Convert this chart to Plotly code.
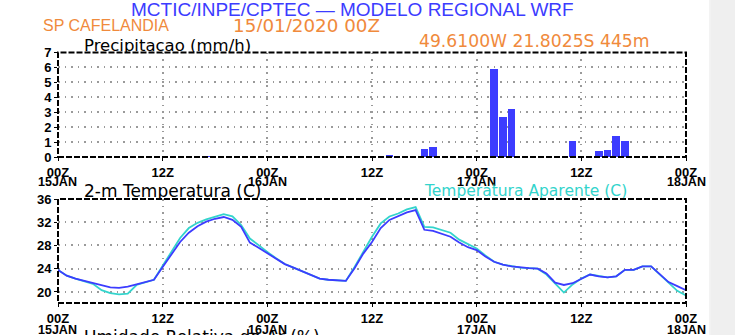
import plotly.graph_objects as go

W, H = 735, 335

# ---------------- data ----------------
hours = list(range(0, 73))
precip_hours = [17, 21, 38, 42, 43, 50, 51, 52, 58, 59, 60, 61, 62, 63, 64, 65]
precip_vals = [0.10, 0.03, 0.15, 0.55, 0.72, 5.92, 2.68, 3.28, 0.02, 1.12, 0.03, 0.03, 0.42, 0.52, 1.42, 1.13]

temp_2m = [23.8, 22.8, 22.3, 21.9, 21.5, 21.1, 20.8, 20.7, 20.9, 21.3, 21.7, 22.1,
           24.3, 26.5, 28.6, 30.2, 31.3, 32.1, 32.6, 32.9, 32.4, 31.2, 28.5, 27.6,
           26.7, 25.7, 24.8, 24.2, 23.6, 22.9, 22.3, 22.1, 22.0, 21.9, 24.1, 26.6,
           28.6, 31.0, 32.4, 33.1, 33.7, 34.1, 30.7, 30.5, 30.0, 29.5, 28.5, 27.7,
           27.2, 26.1, 25.2, 24.7, 24.4, 24.2, 24.1, 24.0, 23.2, 21.6, 21.2, 21.5,
           22.3, 23.0, 22.7, 22.5, 22.7, 23.8, 23.8, 24.4, 24.4, 23.0, 21.7, 21.0, 20.3]
temp_apparent = [23.8, 22.8, 22.3, 21.9, 21.4, 20.3, 19.8, 19.6, 19.7, 21.2, 21.7, 22.1,
                 24.5, 27.0, 29.3, 31.0, 31.9, 32.5, 33.0, 33.4, 33.0, 31.5, 29.2, 28.0,
                 26.9, 25.8, 24.8, 24.2, 23.6, 22.9, 22.3, 22.1, 22.0, 21.9, 24.3, 27.0,
                 29.5, 31.8, 33.0, 33.5, 34.2, 34.6, 31.2, 31.1, 30.6, 30.2, 29.0, 28.3,
                 27.5, 26.3, 25.2, 24.7, 24.4, 24.2, 24.1, 24.0, 23.0, 21.4, 19.9, 21.3,
                 22.3, 23.0, 22.7, 22.5, 22.7, 23.8, 23.8, 24.4, 24.4, 23.0, 21.5, 20.2, 19.4]

tick_hours = [0, 12, 24, 36, 48, 60, 72]
tick_labels = ["00Z", "12Z", "00Z", "12Z", "00Z", "12Z", "00Z"]
date_hours = [0, 24, 48, 72]
date_labels = ["15JAN", "16JAN", "17JAN", "18JAN"]
precip_yticks = [0, 1, 2, 3, 4, 5, 6, 7]
temp_yticks = [20, 24, 28, 32, 36]

# ---------------- layout helpers ----------------
def px(x):
    return x / W

def py(y):
    return 1 - y / H

FONT = "Liberation Sans"
FONT2 = "DejaVu Sans"
BLUE = "#3c3cff"
CYAN = "#33d4cc"
ORANGE = "#f08a3c"
GRID = "#9a9a9a"

fig = go.Figure()

fig.add_trace(go.Bar(x=precip_hours, y=precip_vals, width=0.88,
                     marker=dict(color=BLUE, line=dict(width=0)),
                     xaxis="x", yaxis="y", showlegend=False))
fig.add_trace(go.Scatter(x=hours, y=temp_apparent, mode="lines",
                         line=dict(color=CYAN, width=1.8),
                         xaxis="x2", yaxis="y2", showlegend=False))
fig.add_trace(go.Scatter(x=hours, y=temp_2m, mode="lines",
                         line=dict(color=BLUE, width=1.8),
                         xaxis="x2", yaxis="y2", showlegend=False))

X0, X1 = 58, 686
xdom = [px(X0), px(X1)]
common_x = dict(range=[0, 72], tickvals=tick_hours, ticktext=tick_labels,
                showgrid=True, gridcolor=GRID, griddash="1.5px,5px", gridwidth=1.5,
                ticks="outside", ticklen=3, tickcolor="black", zeroline=False,
                showline=False, tickfont=dict(family=FONT, size=13, color="black", weight="bold"),
                domain=xdom, fixedrange=True)
common_y = dict(showgrid=True, gridcolor=GRID, griddash="1.5px,5px", gridwidth=1.5,
                ticks="outside", ticklen=3, tickcolor="black", zeroline=False,
                showline=False, tickfont=dict(family=FONT, size=13, color="black", weight="bold"),
                fixedrange=True)

TOP_Y0, TOP_Y1 = 157, 52.5
BOT_Y0, BOT_Y1 = 303, 199

fig.update_layout(
    width=W, height=H,
    margin=dict(l=0, r=0, t=0, b=0, autoexpand=False),
    paper_bgcolor="white", plot_bgcolor="white",
    bargap=0,
    xaxis=dict(**common_x, anchor="y"),
    yaxis=dict(**common_y, range=[0, 7], tickvals=precip_yticks,
               domain=[py(TOP_Y0), py(TOP_Y1)], anchor="x"),
    xaxis2=dict(**common_x, anchor="y2"),
    yaxis2=dict(**common_y, range=[18.1, 36], tickvals=temp_yticks,
                domain=[py(BOT_Y0), py(BOT_Y1)], anchor="x2"),
)

shapes = []
for xr, yr in [("x domain", "y domain"), ("x2 domain", "y2 domain")]:
    shapes.append(dict(type="rect", xref=xr, yref=yr, x0=0, x1=1, y0=0, y1=1,
                       line=dict(color="black", width=2, dash="6px,2px"), layer="above"))
# grey strip at right edge
shapes.append(dict(type="rect", xref="paper", yref="paper", x0=px(711), x1=1, y0=0, y1=1,
                   fillcolor="#efefef", line=dict(width=0), layer="above"))
shapes.append(dict(type="line", xref="paper", yref="paper", x0=px(710), x1=px(710), y0=0, y1=1,
                   line=dict(color="#e6e6e6", width=1), layer="above"))
fig.update_layout(shapes=shapes)

def ann(text, x, y, color, size, xanchor="left", yanchor="middle", family=FONT,
        weight="normal", height=None):
    kw = {}
    if height is not None:
        kw["height"] = height
    fig.add_annotation(text=text, xref="paper", yref="paper", x=px(x), y=py(y),
                       xanchor=xanchor, yanchor=yanchor, showarrow=False,
                       borderpad=0, valign="middle",
                       font=dict(family=family, size=size, color=color, weight=weight), **kw)

# date labels under the time ticks
for h, lab in zip(date_hours, date_labels):
    xpix = X0 + (X1 - X0) * h / 72
    ann(lab, xpix, 181, "black", 12.5, xanchor="center", weight="bold", height=11)
    ann(lab, xpix, 329, "black", 12.5, xanchor="center", weight="bold", height=11)

ann("MCTIC/INPE/CPTEC — MODELO REGIONAL WRF", 352, 9, BLUE, 19, xanchor="center", height=16)
ann("SP CAFELANDIA", 42, 24.5, ORANGE, 16, height=14)
ann("15/01/2020 00Z", 232, 24.5, ORANGE, 18.3, family=FONT2, height=14)
ann("49.6100W 21.8025S 445m", 418, 41, ORANGE, 17.2, family=FONT2, height=14)
ann("Precipitacao (mm/h)", 83, 45, "black", 16.5, family=FONT2, height=14)
ann("2-m Temperatura (C)", 83, 191, "black", 17, family=FONT2, height=14)
ann("Temperatura Aparente (C)", 423, 191, CYAN, 15.5, family=FONT2, height=14)
ann("Umidade Relativa do Ar (%)", 83, 326, "black", 17, yanchor="top", family=FONT2)

fig.write_html("out.html")
